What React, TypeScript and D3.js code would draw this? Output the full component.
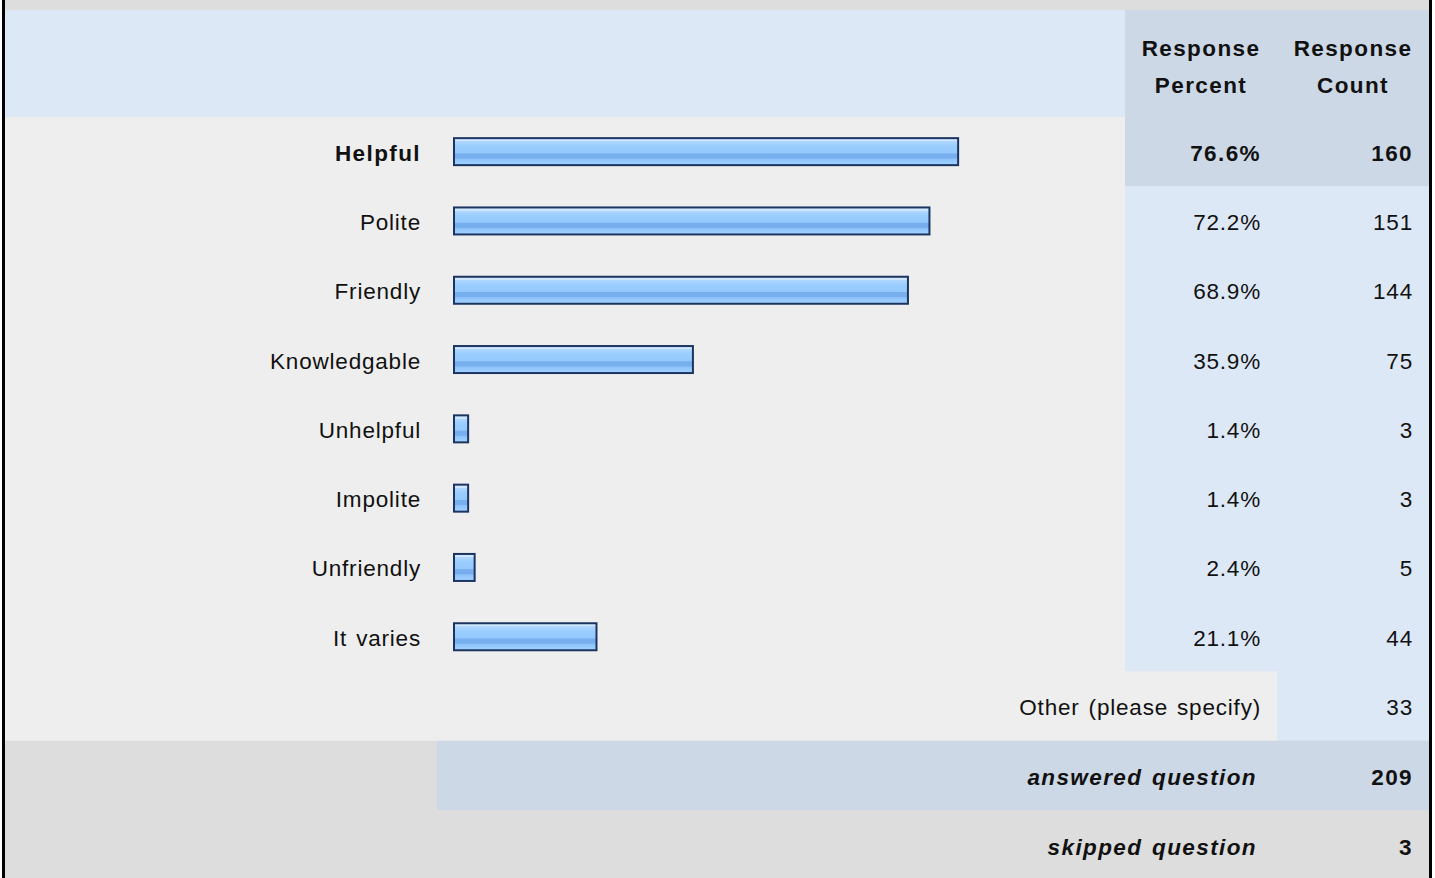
import React from 'react';
import * as d3 from 'd3';

// survey answers
const categories = ['Helpful', 'Polite', 'Friendly', 'Knowledgable', 'Unhelpful', 'Impolite', 'Unfriendly', 'It varies'];
const percents = [76.6, 72.2, 68.9, 35.9, 1.4, 1.4, 2.4, 21.1];
const counts = [160, 151, 144, 75, 3, 3, 5, 44];
const headers = [['Response', 'Percent'], ['Response', 'Count']];
const otherLabel = 'Other (please specify)';
const otherCount = 33;
const summaryLabels = ['answered question', 'skipped question'];
const summaryValues = [209, 3];

const W = 1435;
const H = 878;
const FONT = '"Liberation Sans", Arial, sans-serif';

const LIGHT_BLUE = '#dde8f6';
const MID_BLUE = '#cdd8e6';
const GRAY = '#eeeeee';
const DARK_GRAY = '#dddddd';

const App = () => {
  const nRows = categories.length + 3;
  const rowScale = d3.scaleBand<number>().domain(d3.range(nRows)).range([117, 879.3]);
  const rh = rowScale.bandwidth();
  const x = d3.scaleLinear().domain([0, 100]).range([0, 651.6]);
  const barX = 453;
  const barH = 29;
  const colSplit = 1125;
  const colMid = 1277;
  const right = 1429;
  const pctRight = 1260;
  const cntRight = 1412;

  const textStyle = { fontFamily: FONT, fontSize: 22.5, letterSpacing: '0.8px', wordSpacing: '2px' } as React.CSSProperties;
  const boldStyle = { ...textStyle, fontWeight: 'bold', letterSpacing: '1.4px', wordSpacing: '2px' } as React.CSSProperties;

  const otherRow = categories.length;
  const ansRow = otherRow + 1;
  const skipRow = otherRow + 2;

  return (
    <svg width={W} height={H} style={{ position: 'absolute', left: 0, top: 0, display: 'block' }}>
      <defs>
        <linearGradient id="barGrad" x1="0" x2="0" y1="0" y2="1">
          <stop offset="0" stopColor="#cfe6ff" />
          <stop offset="0.12" stopColor="#cfe6ff" />
          <stop offset="0.12" stopColor="#b0d7ff" />
          <stop offset="0.3" stopColor="#9acdff" />
          <stop offset="0.55" stopColor="#95c8fc" />
          <stop offset="0.58" stopColor="#76aeee" />
          <stop offset="0.74" stopColor="#76aeee" />
          <stop offset="0.77" stopColor="#8cc2fb" />
          <stop offset="1" stopColor="#a4d2ff" />
        </linearGradient>
      </defs>
      {/* background */}
      <rect x={0} y={0} width={W} height={H} fill="#ffffff" />
      <rect x={5} y={0} width={right - 5} height={10} fill={DARK_GRAY} />
      {/* header */}
      <rect x={5} y={10} width={colSplit - 5} height={107} fill={LIGHT_BLUE} />
      <rect x={colSplit} y={10} width={right - colSplit} height={107} fill={MID_BLUE} />
      {headers.map((h, i) => {
        const cx = i === 0 ? 1201 : 1353;
        return (
          <text key={i} style={boldStyle} textAnchor="middle" fill="#111">
            <tspan x={cx} y={56}>{h[0]}</tspan>
            <tspan x={cx} y={93}>{h[1]}</tspan>
          </text>
        );
      })}

      {/* category rows */}
      {categories.map((c, i) => {
        const y0 = rowScale(i) as number;
        const cy = y0 + rh / 2;
        const bold = i === 0;
        const st = bold ? boldStyle : textStyle;
        return (
          <g key={c}>
            <rect x={5} y={y0} width={colSplit - 5} height={rh + 0.5} fill={GRAY} />
            <rect x={colSplit} y={y0} width={right - colSplit} height={rh + 0.5} fill={bold ? MID_BLUE : LIGHT_BLUE} />
            <text x={421} y={cy + 9} textAnchor="end" fill="#111" style={st}>
              {c}
            </text>
            <rect
              x={barX + 1}
              y={cy - barH / 2 + 1}
              width={x(percents[i]) + 5}
              height={barH - 2}
              fill="url(#barGrad)"
              stroke="#1c3560"
              strokeWidth={2}
            />
            <text x={pctRight + 1} y={cy + 9} textAnchor="end" fill="#111" style={st}>
              {percents[i].toFixed(1)}%
            </text>
            <text x={cntRight + 1} y={cy + 9} textAnchor="end" fill="#111" style={st}>
              {counts[i]}
            </text>
          </g>
        );
      })}

      {/* other row */}
      <rect x={5} y={rowScale(otherRow)} width={colMid - 5} height={rh + 0.5} fill={GRAY} />
      <rect x={colMid} y={rowScale(otherRow)} width={right - colMid} height={rh + 0.5} fill={LIGHT_BLUE} />
      <text x={pctRight + 1} y={(rowScale(otherRow) as number) + rh / 2 + 9} textAnchor="end" fill="#111" style={textStyle}>
        {otherLabel}
      </text>
      <text x={cntRight + 1} y={(rowScale(otherRow) as number) + rh / 2 + 9} textAnchor="end" fill="#111" style={textStyle}>
        {otherCount}
      </text>

      {/* summary rows */}
      <rect x={5} y={rowScale(ansRow)} width={432} height={rh + 0.5} fill={DARK_GRAY} />
      <rect x={437} y={rowScale(ansRow)} width={right - 437} height={rh + 0.5} fill={MID_BLUE} />
      <rect x={5} y={rowScale(skipRow)} width={right - 5} height={H - (rowScale(skipRow) as number)} fill={DARK_GRAY} />
      {summaryLabels.map((s, i) => {
        const cy = (rowScale(ansRow + i) as number) + rh / 2;
        return (
          <g key={s}>
            <text x={1257} y={cy + 10} textAnchor="end" fill="#111" style={{ ...boldStyle, fontStyle: 'italic' }}>
              {s}
            </text>
            <text x={cntRight + 1} y={cy + 10} textAnchor="end" fill="#111" style={boldStyle}>
              {summaryValues[i]}
            </text>
          </g>
        );
      })}

      {/* side borders */}
      <rect x={2} y={0} width={3} height={H} fill="#000" />
      <rect x={right} y={0} width={3} height={H} fill="#000" />
    </svg>
  );
};

export default App;
